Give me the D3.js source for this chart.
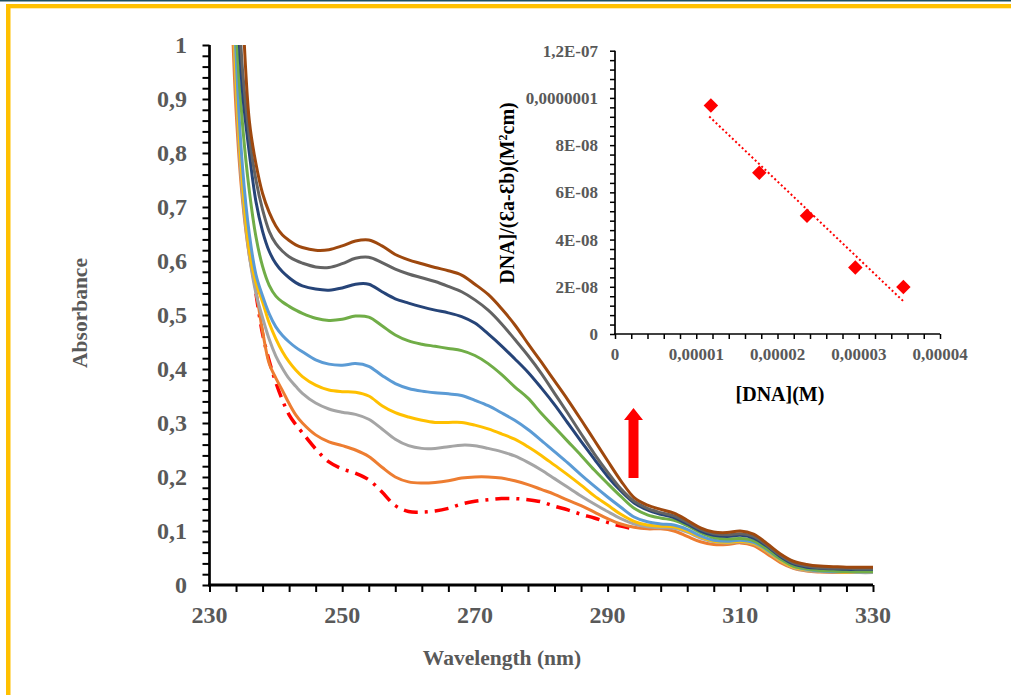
<!DOCTYPE html>
<html>
<head>
<meta charset="utf-8">
<script src="https://cdn.jsdelivr.net/npm/d3@7"></script>
<style>
  html, body { margin: 0; padding: 0; background: #ffffff; }
  svg { display: block; }
  text { font-family: "Liberation Serif", "Times New Roman", serif; font-weight: bold; }
</style>
</head>
<body>
<svg id="chart" width="1011" height="695"></svg>
<script>
// ---------------- DATA ----------------
const wavelengths = [233,234,235,236,237,238,239,240,241,242,243,244,
  246,248,250,252,254,256,258,260,262,264,266,268,270,272,274,276,278,280,282,284,286,288,290,292,294,296,298,300,302,304,306,308,310,312,314,316,318,320,322,324,326,328,330];

const freeCompound = [null,null,null,null,0.54,0.465,0.415,0.375,0.342,0.315,0.297,0.282,
  0.252,0.228,0.215,0.207,0.195,0.172,0.147,0.136,0.135,0.137,0.142,0.150,0.155,0.158,0.160,0.160,0.158,0.154,0.146,0.139,0.131,0.124,0.116,0.109,0.104,
  null,null,null,null,null,null,null,null,null,null,null,null,null,null,null,null,null,null];
const titration1 = [1.2,0.88,0.71,0.61,0.545,0.47,0.41,0.383,0.360,0.336,0.315,0.300,
  0.278,0.265,0.258,0.250,0.238,0.218,0.200,0.191,0.189,0.190,0.193,0.198,0.200,0.200,0.198,0.193,0.186,0.177,0.168,0.157,0.147,0.135,0.123,0.113,0.107,0.104,0.104,0.100,0.090,0.080,0.075,0.075,0.078,0.073,0.058,0.042,0.031,0.026,0.024,0.023,0.023,0.023,0.023];
const titration2 = [1.28,0.92,0.72,0.61,0.54,0.495,0.455,0.424,0.401,0.382,0.368,0.355,
  0.337,0.326,0.320,0.316,0.307,0.289,0.270,0.258,0.253,0.253,0.256,0.259,0.258,0.253,0.247,0.239,0.227,0.213,0.197,0.181,0.165,0.150,0.136,0.123,0.113,0.108,0.106,0.105,0.098,0.087,0.080,0.078,0.080,0.076,0.062,0.045,0.032,0.027,0.025,0.024,0.024,0.023,0.023];
const titration3 = [1.3,0.94,0.74,0.62,0.56,0.524,0.485,0.456,0.432,0.413,0.398,0.386,
  0.370,0.361,0.358,0.357,0.350,0.332,0.319,0.311,0.305,0.301,0.301,0.301,0.296,0.289,0.280,0.270,0.256,0.240,0.222,0.204,0.185,0.165,0.148,0.131,0.118,0.111,0.109,0.108,0.100,0.089,0.081,0.079,0.081,0.077,0.063,0.046,0.033,0.028,0.026,0.025,0.024,0.024,0.024];
const titration4 = [1.35,0.98,0.77,0.65,0.575,0.535,0.502,0.478,0.462,0.450,0.440,0.432,
  0.417,0.409,0.407,0.410,0.405,0.388,0.373,0.364,0.359,0.356,0.354,0.351,0.342,0.332,0.319,0.305,0.288,0.268,0.247,0.226,0.204,0.183,0.163,0.144,0.126,0.117,0.113,0.111,0.103,0.091,0.083,0.081,0.083,0.079,0.065,0.048,0.035,0.029,0.026,0.025,0.025,0.024,0.024];
const titration5 = [1.4,1.03,0.85,0.73,0.645,0.59,0.555,0.535,0.524,0.516,0.509,0.503,
  0.494,0.490,0.492,0.498,0.496,0.480,0.463,0.452,0.446,0.442,0.438,0.434,0.425,0.410,0.390,0.367,0.346,0.318,0.292,0.266,0.240,0.213,0.188,0.164,0.142,0.130,0.124,0.120,0.110,0.097,0.088,0.085,0.086,0.082,0.067,0.049,0.035,0.030,0.027,0.026,0.025,0.025,0.025];
const titration6 = [1.45,1.12,0.91,0.80,0.71,0.655,0.618,0.595,0.580,0.569,0.560,0.554,
  0.548,0.546,0.550,0.557,0.557,0.543,0.530,0.522,0.515,0.509,0.504,0.497,0.485,0.465,0.443,0.419,0.394,0.365,0.334,0.300,0.266,0.233,0.201,0.174,0.152,0.139,0.131,0.125,0.113,0.100,0.092,0.090,0.092,0.087,0.072,0.053,0.039,0.033,0.031,0.030,0.029,0.029,0.029];
const titration7 = [1.5,1.18,0.95,0.83,0.75,0.695,0.655,0.632,0.618,0.608,0.601,0.596,
  0.589,0.588,0.595,0.605,0.607,0.597,0.585,0.576,0.569,0.562,0.553,0.543,0.528,0.509,0.484,0.455,0.425,0.392,0.355,0.318,0.280,0.243,0.209,0.178,0.155,0.142,0.134,0.128,0.116,0.103,0.095,0.093,0.095,0.090,0.074,0.055,0.041,0.035,0.032,0.031,0.031,0.030,0.030];
const titration8 = [1.6,1.3,1.06,0.86,0.78,0.725,0.69,0.665,0.648,0.638,0.630,0.625,
  0.620,0.621,0.628,0.637,0.639,0.628,0.612,0.602,0.595,0.588,0.582,0.574,0.557,0.538,0.512,0.482,0.447,0.413,0.378,0.343,0.306,0.268,0.230,0.193,0.162,0.148,0.140,0.133,0.120,0.106,0.098,0.097,0.100,0.094,0.077,0.058,0.044,0.038,0.035,0.034,0.033,0.033,0.033];

const seriesNames  = ["free", "t1", "t2", "t3", "t4", "t5", "t6", "t7", "t8"];
const seriesColors = ["#FF0000", "#ED7D31", "#A5A5A5", "#FFC000", "#5B9BD5", "#70AD47", "#264478", "#636363", "#9E480E"];
const seriesValues = [freeCompound, titration1, titration2, titration3, titration4, titration5, titration6, titration7, titration8];

const yTicks = [0,0.1,0.2,0.3,0.4,0.5,0.6,0.7,0.8,0.9,1];
const yTickLabels = ["0","0,1","0,2","0,3","0,4","0,5","0,6","0,7","0,8","0,9","1"];
const xTicks = [230,250,270,290,310,330];
const xTickLabels = ["230","250","270","290","310","330"];

// inset: [DNA] vs [DNA]/(εa-εb)
const dnaConc = [1.18e-5, 1.776e-5, 2.363e-5, 2.958e-5, 3.549e-5];
const dnaRatio = [9.68e-8, 6.83e-8, 5.01e-8, 2.82e-8, 1.99e-8];
const insetYTicks = [0, 2e-8, 4e-8, 6e-8, 8e-8, 1e-7, 1.2e-7];
const insetYTickLabels = ["0","2E-08","4E-08","6E-08","8E-08","0,0000001","1,2E-07"];
const insetXTicks = [0, 1e-5, 2e-5, 3e-5, 4e-5];
const insetXTickLabels = ["0","0,00001","0,00002","0,00003","0,00004"];

// ---------------- DRAW ----------------
const svg = d3.select("#chart");
const grayText = "#595959";

// frame decoration
svg.append("rect").attr("x",0).attr("y",0).attr("width",1011).attr("height",1.5).attr("fill","#1F4E60");
svg.append("rect").attr("x",6).attr("y",4).attr("width",1005).attr("height",4.3).attr("fill","#FFC000");
svg.append("rect").attr("x",6).attr("y",4).attr("width",4.5).attr("height",691).attr("fill","#FFC000");

const x = d3.scaleLinear().domain([230,330]).range([209.5,873]);
const y = d3.scaleLinear().domain([0,1]).range([585,45]);

svg.append("clipPath").attr("id","plotClip").append("rect")
  .attr("x",209.5).attr("y",45).attr("width",873-209.5+4).attr("height",540);

const line = d3.line()
  .defined(d => d[1] !== null)
  .x(d => x(d[0])).y(d => y(d[1]))
  .curve(d3.curveCatmullRom.alpha(0.5));

const gLines = svg.append("g").attr("clip-path","url(#plotClip)");
seriesValues.forEach((vals, i) => {
  const pts = wavelengths.map((w, j) => [w, vals[j]]);
  const p = gLines.append("path")
    .attr("d", line(pts))
    .attr("fill","none")
    .attr("stroke", seriesColors[i])
    .attr("stroke-width", i === 0 ? 3.5 : 3)
    .attr("stroke-linejoin","round");
  if (i === 0) p.attr("stroke-dasharray","14,7,3,7");
});

// main axes
const yAxis = d3.axisLeft(y).tickValues(d3.range(0,51).map(k => k*0.02)).tickSize(7).tickFormat("");
const gy = svg.append("g").attr("transform","translate(209.5,0)").call(yAxis);
gy.selectAll("line").attr("stroke","#000").attr("stroke-width",2);
gy.select(".domain").attr("stroke","#000").attr("stroke-width",2.7).attr("d","M0,45V585");

const xAxis = d3.axisBottom(x).tickValues(d3.range(0,26).map(k => 230+k*4)).tickSize(7).tickFormat("");
const gx = svg.append("g").attr("transform","translate(0,585)").call(xAxis);
gx.selectAll("line").attr("stroke","#000").attr("stroke-width",2);
gx.select(".domain").attr("stroke","#000").attr("stroke-width",3).attr("d","M208,0H873");

svg.append("g").selectAll("text").data(yTicks).join("text")
  .attr("x",187).attr("y",d => y(d)+8.3).attr("text-anchor","end")
  .attr("font-size",24).attr("fill",grayText)
  .text((d,i) => yTickLabels[i]);
svg.append("g").selectAll("text").data(xTicks).join("text")
  .attr("x",d => x(d)).attr("y",623).attr("text-anchor","middle")
  .attr("font-size",24).attr("fill",grayText)
  .text((d,i) => xTickLabels[i]);

svg.append("text").attr("transform","translate(87,313) rotate(-90)")
  .attr("text-anchor","middle").attr("font-size",21.5).attr("fill",grayText).text("Absorbance");
svg.append("text").attr("x",502).attr("y",665)
  .attr("text-anchor","middle").attr("font-size",21.5).attr("fill",grayText).text("Wavelength (nm)");

// arrow annotation
svg.append("path")
  .attr("d","M633.5,408 L643,420 L638.5,420 L638.5,478 L628.5,478 L628.5,420 L624,420 Z")
  .attr("fill","#FF0000");

// ---------------- INSET ----------------
const xi = d3.scaleLinear().domain([0,4e-5]).range([615,940]);
const yi = d3.scaleLinear().domain([0,1.2e-7]).range([334,50.7]);

const yiAxis = d3.axisLeft(yi).tickValues(d3.range(0,31).map(k => k*4e-9)).tickSize(5).tickFormat("");
const gyi = svg.append("g").attr("transform","translate(615,0)").call(yiAxis);
gyi.selectAll("line").attr("stroke","#000").attr("stroke-width",1.5);
gyi.select(".domain").attr("stroke","#000").attr("stroke-width",1.7).attr("d","M0,50.7V334");

const xiAxis = d3.axisBottom(xi).tickValues(d3.range(0,21).map(k => k*2e-6)).tickSize(5).tickFormat("");
const gxi = svg.append("g").attr("transform","translate(0,334)").call(xiAxis);
gxi.selectAll("line").attr("stroke","#000").attr("stroke-width",1.5);
gxi.select(".domain").attr("stroke","#000").attr("stroke-width",1.7).attr("d","M614,0H940");

svg.append("g").selectAll("text").data(insetYTicks).join("text")
  .attr("x",598).attr("y",d => yi(d)+6).attr("text-anchor","end")
  .attr("font-size",17).attr("fill",grayText)
  .text((d,i) => insetYTickLabels[i]);
svg.append("g").selectAll("text").data(insetXTicks).join("text")
  .attr("x",d => xi(d)).attr("y",360).attr("text-anchor","middle")
  .attr("font-size",17).attr("fill",grayText)
  .text((d,i) => insetXTickLabels[i]);

svg.append("text").attr("x",780).attr("y",401).attr("text-anchor","middle")
  .attr("font-size",20).attr("fill","#000").text("[DNA](M)");
const yt = svg.append("text").attr("transform","translate(514,193) rotate(-90)")
  .attr("text-anchor","middle").attr("font-size",20).attr("fill","#000");
yt.append("tspan").text("DNA]/(Ɛa-Ɛb)(M");
yt.append("tspan").attr("font-size",12).attr("dy",-7).text("2");
yt.append("tspan").attr("dy",7).text("cm)");

// linear trendline (least squares)
const n = dnaConc.length;
const mx = d3.mean(dnaConc), my = d3.mean(dnaRatio);
let sxy = 0, sxx = 0;
for (let k = 0; k < n; k++) { sxy += (dnaConc[k]-mx)*(dnaRatio[k]-my); sxx += (dnaConc[k]-mx)**2; }
const slope = sxy/sxx, icpt = my - slope*mx;
const x0 = d3.min(dnaConc) - 0.02e-5, x1 = d3.max(dnaConc);
svg.append("line")
  .attr("x1",xi(x0)).attr("y1",yi(icpt+slope*x0))
  .attr("x2",xi(x1)).attr("y2",yi(icpt+slope*x1))
  .attr("stroke","#FF0000").attr("stroke-width",2).attr("stroke-dasharray","2,2.5");

svg.append("g").selectAll("path").data(dnaConc).join("path")
  .attr("d", d3.symbol(d3.symbolSquare, 105)())
  .attr("transform",(d,i) => `translate(${xi(d)},${yi(dnaRatio[i])}) rotate(45)`)
  .attr("fill","#FF0000");
</script>
</body>
</html>
